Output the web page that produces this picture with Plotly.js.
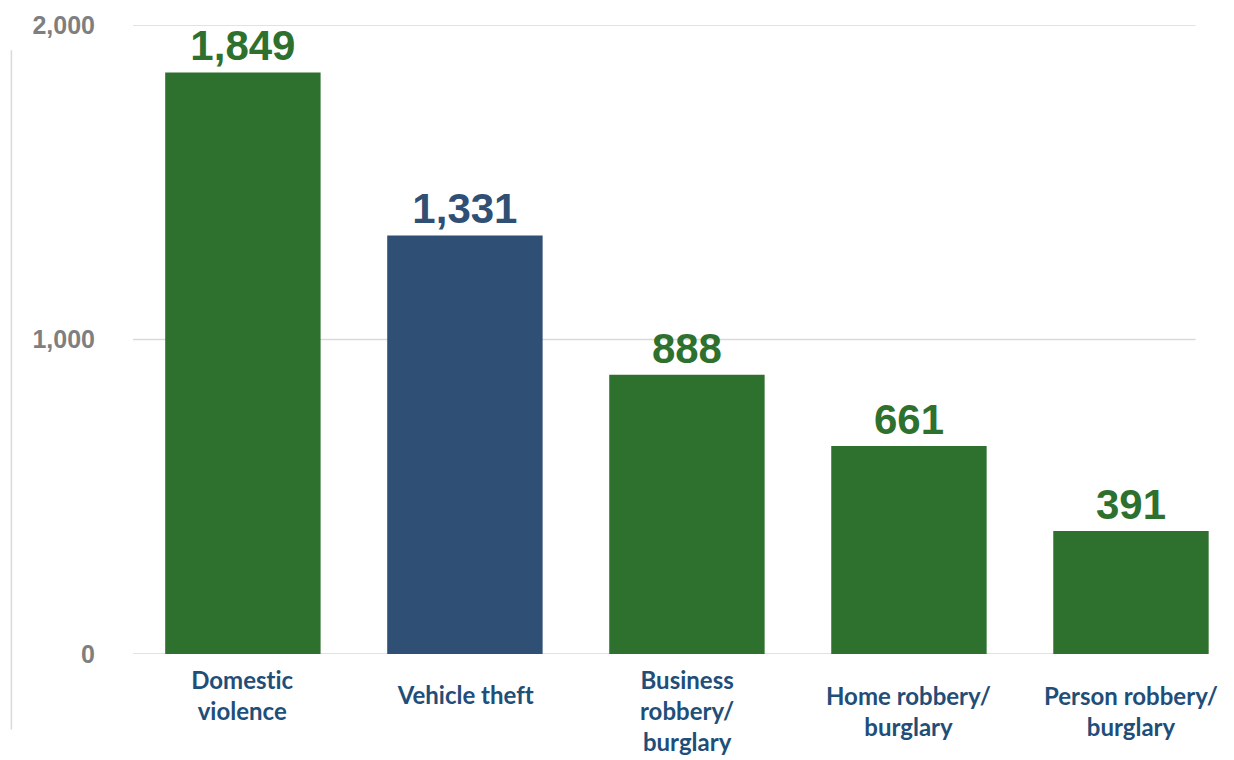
<!DOCTYPE html>
<html>
<head>
<meta charset="utf-8">
<script src="https://cdn.plot.ly/plotly-3.0.1.min.js"></script>
<style>html,body{margin:0;padding:0;background:#fff;}#chart{width:1234px;height:760px;}
#chart text{font-variant-ligatures:none;font-feature-settings:"liga" 0;}</style>
</head>
<body>
<div id="chart"></div>
<script>
const categories = ["Domestic violence", "Vehicle theft", "Business robbery/ burglary", "Home robbery/ burglary", "Person robbery/ burglary"];
const labelLines = [["Domestic", "violence"], ["Vehicle theft"], ["Business", "robbery/", "burglary"], ["Home robbery/", "burglary"], ["Person robbery/", "burglary"]];
const values = [1849, 1331, 888, 661, 391];
const tickValues = [0, 1000, 2000];
const tickLabels = ["0", "1,000", "2,000"];

const GREEN = "#2E702E", BLUE = "#304F74", LABEL = "#1F4E79";
const barColors = [GREEN, BLUE, GREEN, GREEN, GREEN];
const labelShift = [0, -15, 0, -16, -16];

const trace = {
  type: "bar",
  x: categories,
  y: values,
  marker: {color: barColors},
  width: 0.70,
  text: values.map(v => v.toLocaleString("en-US")),
  textposition: "outside",
  constraintext: "none",
  cliponaxis: false,
  textfont: {family: "Liberation Sans, Arial, sans-serif", size: 42, weight: 700, color: barColors},
  hoverinfo: "x+y"
};

const shapes = tickValues.map(v => ({
  type: "line", xref: "paper", yref: "y", x0: 0, x1: 0.983, y0: v, y1: v,
  line: {color: "#D9D9D9", width: 1.5}, layer: "below"
}));
shapes.push({type: "line", xref: "paper", yref: "paper", x0: -0.1125, x1: -0.1125, y0: -0.12, y1: 0.96,
  line: {color: "#D9D9D9", width: 1.5}});

const annotations = categories.map((c, i) => ({
  x: c, xref: "x", y: 0, yref: "y", yanchor: "top", xanchor: "center",
  yshift: -9 + labelShift[i],
  text: labelLines[i].join("<br>"), showarrow: false, align: "center",
  font: {family: "Lato, 'Open Sans', sans-serif", size: 24, weight: 700, color: LABEL}
}));

const layout = {
  width: 1234, height: 760,
  margin: {l: 133, r: 20, t: 25, b: 106},
  paper_bgcolor: "#fff", plot_bgcolor: "#fff",
  showlegend: false,
  bargap: 0.3,
  xaxis: {type: "category", range: [-0.495, 4.374], showticklabels: false, showgrid: false, zeroline: false, showline: false, ticks: "", fixedrange: true},
  yaxis: {range: [0, 2000], tickvals: tickValues, ticktext: tickLabels, showgrid: false, zeroline: false, showline: false,
    ticks: "outside", ticklen: 32, tickcolor: "rgba(0,0,0,0)",
    tickfont: {family: "Liberation Sans, Arial, sans-serif", size: 25, weight: 700, color: "#7F7F7F"}, fixedrange: true},
  shapes: shapes,
  annotations: annotations,
  font: {family: "Liberation Sans, Arial, sans-serif"}
};

Plotly.newPlot("chart", [trace], layout, {displayModeBar: false, staticPlot: true});
</script>
</body>
</html>
